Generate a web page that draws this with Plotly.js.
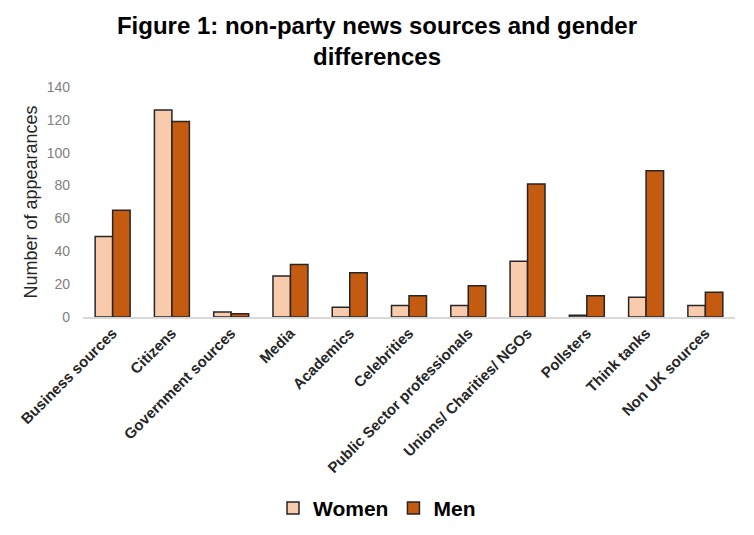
<!DOCTYPE html>
<html>
<head>
<meta charset="utf-8">
<script src="https://cdn.plot.ly/plotly-3.0.1.min.js"></script>
<style>html,body{margin:0;padding:0;background:#fff;}#chart{width:754px;height:535px;}</style>
</head>
<body>
<div id="chart"></div>
<script>
const categories = ["Business sources","Citizens","Government sources","Media","Academics","Celebrities","Public Sector professionals","Unions/ Charities/ NGOs","Pollsters","Think tanks","Non UK sources"];
const women = [49,126,3,25,6,7,7,34,1,12,7];
const men = [65,119,2,32,27,13,19,81,13,89,15];
const yTicks = [0,20,40,60,80,100,120,140];

const data = [
  {type:"bar", name:"Women", x:categories, y:women,
   marker:{color:"#F8CBAD", line:{color:"#262626", width:1.5}}},
  {type:"bar", name:"Men", x:categories, y:men,
   marker:{color:"#C55A11", line:{color:"#262626", width:1.5}}}
];
const layout = {
  width:754, height:535,
  paper_bgcolor:"#fff", plot_bgcolor:"#fff",
  font:{family:"Liberation Sans, Arial, sans-serif"},
  margin:{l:83, r:19, t:87, b:218},
  barmode:"group", bargap:0.41, bargroupgap:0,
  title:{text:"<b>Figure 1: non-party news sources and gender<br>differences</b>", x:0.5, xref:"container", xanchor:"center",
         yref:"container", y:0.937, yanchor:"middle",
         font:{size:24, color:"#000", family:"Liberation Sans Narrow, Liberation Sans, Arial, sans-serif"}},
  xaxis:{tickangle:-45, showline:true, linecolor:"#d9d9d9", linewidth:1.5, ticks:"", automargin:false,
         tickfont:{size:15, color:"#262626", family:"Liberation Sans, Arial, sans-serif", weight:"bold"}},
  yaxis:{range:[0,140], tickvals:yTicks, ticktext:yTicks.map(String), showgrid:false, zeroline:false, showline:false,
         automargin:false,
         tickfont:{size:14, color:"#7f7f7f"}, ticks:"", ticklabelstandoff:12,
         title:{text:"Number of appearances", font:{size:18, color:"#262626"}, standoff:4}},
  showlegend:true,
  legend:{orientation:"h", xref:"container", x:0.5, xanchor:"center", yref:"container", y:0.05, yanchor:"middle",
          font:{size:21, color:"#000", weight:"bold"}, itemwidth:30, traceorder:"normal"}
};
Plotly.newPlot("chart", data, layout, {displayModeBar:false, staticPlot:true});
</script>
</body>
</html>
